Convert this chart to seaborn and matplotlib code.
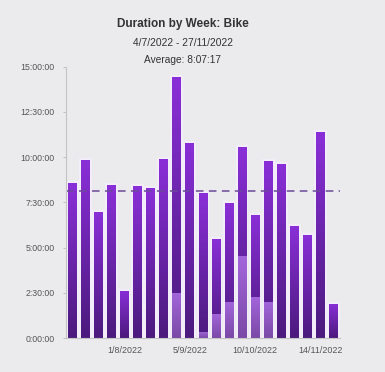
"""
週ごとのバイク時間（積み上げ棒グラフ）
"""
import numpy as np
import pandas as pd
import matplotlib
matplotlib.use('Agg')
import matplotlib.pyplot as plt
from matplotlib.colors import LinearSegmentedColormap
import seaborn as sns

# データ（時間単位）
weeks = ['4/7/2022', '11/7/2022', '18/7/2022', '25/7/2022', '1/8/2022', '8/8/2022',
         '15/8/2022', '22/8/2022', '29/8/2022', '5/9/2022', '12/9/2022', '19/9/2022',
         '26/9/2022', '3/10/2022', '10/10/2022', '17/10/2022', '24/10/2022',
         '31/10/2022', '7/11/2022', '14/11/2022', '21/11/2022']
total_hours = [8.56, 9.85, 6.98, 8.47, 2.63, 8.41, 8.32, 9.90, 14.45, 10.80, 8.04,
               5.49, 7.49, 10.57, 6.81, 9.76, 9.63, 6.20, 5.71, 11.36, 1.90]
lower_hours = [0, 0, 0, 0, 0, 0, 0, 0, 2.52, 0, 0.36,
               1.34, 2.02, 4.55, 2.30, 2.02, 0, 0, 0, 0, 0]
average_hours = 8 + 7 / 60 + 17 / 3600
tick_weeks = ['1/8/2022', '5/9/2022', '10/10/2022', '14/11/2022']
y_ticks = [0, 2.5, 5, 7.5, 10, 12.5, 15]

df = pd.DataFrame({'week': weeks, 'total': total_hours, 'lower': lower_hours})

sns.set_style('white')
plt.rcParams['font.family'] = ['Liberation Sans', 'DejaVu Sans']

def fmt_hours(h):
    secs = int(round(h * 3600))
    return f"{secs // 3600}:{(secs % 3600) // 60:02d}:{secs % 60:02d}"

bg = '#ebebed'
fig = plt.figure(figsize=(3.85, 3.72), dpi=100)
fig.patch.set_facecolor(bg)
ax = fig.add_axes([0.171, 0.091, 0.712, 0.730])
ax.set_facecolor(bg)

# 外側の薄い縁取り付きの棒
sns.barplot(data=df, x='week', y='total', color='#6a25b0', width=0.67, ax=ax,
            saturation=1, zorder=2, edgecolor='#f2edf8', linewidth=2.9)
n = len(df)
sns.barplot(data=df, x='week', y='lower', color='#8e55c4', width=0.67, ax=ax,
            saturation=1, zorder=3, linewidth=0)

ax.set_xlim(-0.5, n - 0.5)
ax.set_ylim(0, 15)

# グラデーション
cmap_top = LinearSegmentedColormap.from_list('top', ['#4b1a7d', '#8a2fd8'])
cmap_low = LinearSegmentedColormap.from_list('low', ['#7a4aa6', '#a466dc'])
grad = np.linspace(0, 1, 256).reshape(-1, 1)
for i, p in enumerate(list(ax.patches)):
    x0, y0 = p.get_x(), p.get_y()
    w, h = p.get_width(), p.get_height()
    if h <= 0:
        continue
    cmap = cmap_top if i < n else cmap_low
    im = ax.imshow(grad, extent=[x0, x0 + w, y0, y0 + h], origin='lower',
                   cmap=cmap, aspect='auto', zorder=p.get_zorder() + 0.1)
    im.set_clip_path(p)
ax.set_xlim(-0.5, n - 0.5)
ax.set_ylim(0, 15)

ax.axhline(average_hours, color='#6b4a99', lw=1.1, ls=(0, (5, 3.5)), zorder=10)

ax.set_yticks(y_ticks)
ax.set_yticklabels([fmt_hours(v) for v in y_ticks])
ax.set_xticks([weeks.index(t) for t in tick_weeks])
ax.set_xticklabels(tick_weeks)
ax.set_xlabel('')
ax.set_ylabel('')
ax.tick_params(axis='y', length=2, width=0.6, color='#bbbbbb', pad=6,
               labelsize=6.3, labelcolor='#555555', left=True)
ax.tick_params(axis='x', length=0, pad=6, labelsize=6.4, labelcolor='#555555')

for s in ['top', 'right']:
    ax.spines[s].set_visible(False)
for s in ['left', 'bottom']:
    ax.spines[s].set_color('#c4c4c4')
    ax.spines[s].set_linewidth(0.8)
    ax.spines[s].set_zorder(11)

fig.text(0.475, 0.935, 'Duration by Week: Bike', ha='center', va='center',
         fontsize=8.5, fontweight='bold', color='#333333')
fig.text(0.475, 0.885, '4/7/2022 - 27/11/2022', ha='center', va='center',
         fontsize=7.4, color='#333333')
fig.text(0.475, 0.838, 'Average: 8:07:17', ha='center', va='center',
         fontsize=7.3, color='#333333')

fig.savefig('out.png', dpi=100, facecolor=fig.get_facecolor())
